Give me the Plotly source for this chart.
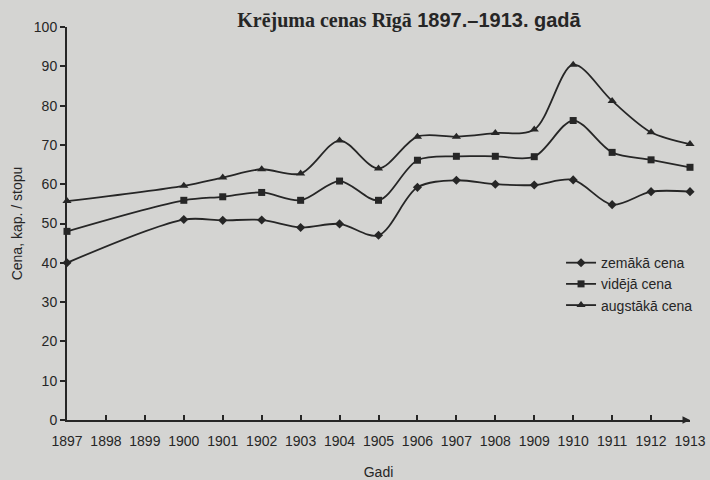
import plotly.graph_objects as go

years = [1897, 1900, 1901, 1902, 1903, 1904, 1905, 1906, 1907, 1908, 1909, 1910, 1911, 1912, 1913]
zemaka = [40.0, 51.0, 50.8, 50.9, 49.0, 49.9, 47.0, 59.2, 61.0, 60.0, 59.8, 61.1, 54.8, 58.1, 58.1]
videja = [48.0, 55.9, 56.8, 57.9, 55.9, 60.8, 55.9, 66.1, 67.1, 67.1, 67.0, 76.2, 68.1, 66.2, 64.3]
augstaka = [55.7, 59.6, 61.7, 63.8, 62.7, 71.1, 64.0, 72.1, 72.1, 73.0, 73.9, 90.4, 81.2, 73.2, 70.2]
tick_years = list(range(1897, 1914))

ink = "#262626"
bg = "#d4d4d2"

fig = go.Figure()
series = [
    ("zemākā cena", zemaka, "diamond", 7),
    ("vidējā cena", videja, "square", 7),
    ("augstākā cena", augstaka, "triangle-up", 8),
]
for name, vals, sym, sz in series:
    fig.add_trace(go.Scatter(
        x=years, y=vals, name=name, mode="lines+markers",
        line=dict(color=ink, width=1.8, shape="spline", smoothing=0.9),
        marker=dict(symbol=sym, size=sz, color=ink),
        cliponaxis=False,
    ))

fig.add_annotation(
    x=1913, y=0, xref="x", yref="y", ax=-8, ay=0, text="",
    showarrow=True, arrowhead=2, arrowsize=1, arrowwidth=1.5, arrowcolor=ink,
)

fig.update_layout(
    width=710, height=480,
    paper_bgcolor=bg, plot_bgcolor=bg,
    margin=dict(l=67, r=20, t=27, b=60),
    font=dict(family="Liberation Sans, Arial, sans-serif", size=14, color=ink),
    title=dict(
        text='<b><span style="font-family:Liberation Serif">Krējuma cenas Rīgā</span> 1897.–1913. gadā</b>',
        x=0.576, xanchor="center", y=0.958, yanchor="middle",
        font=dict(size=20, family="Liberation Sans, Arial, sans-serif", color=ink),
    ),
    showlegend=True,
    legend=dict(
        x=0.793, y=0.44, xanchor="left", yanchor="top",
        bgcolor="rgba(0,0,0,0)", font=dict(size=14, color=ink),
        itemwidth=30, tracegroupgap=0,
    ),
    xaxis=dict(
        range=[1897, 1913], tickmode="array", tickvals=tick_years,
        ticktext=[str(y) for y in tick_years],
        automargin=False,
        showgrid=False, zeroline=False, showline=True, linecolor=ink, linewidth=2,
        ticks="inside", ticklen=5, tickcolor=ink, tickwidth=1.5,
        ticklabelstandoff=7,
        title=dict(text="Gadi", standoff=20, font=dict(size=14)),
        tickfont=dict(size=14),
    ),
    yaxis=dict(
        range=[0, 100], dtick=10, showgrid=False, zeroline=False,
        automargin=False,
        showline=True, linecolor=ink, linewidth=2,
        ticks="outside", ticklen=5, tickcolor=ink, tickwidth=1.5,
        title=dict(text="Cena, kap. / stopu", standoff=8, font=dict(size=14)),
        tickfont=dict(size=14),
    ),
)

fig.write_html(
    "out.html",
    config={"displayModeBar": False},
    post_script="document.body.style.margin='0';document.body.style.background='#d4d4d2';",
)
